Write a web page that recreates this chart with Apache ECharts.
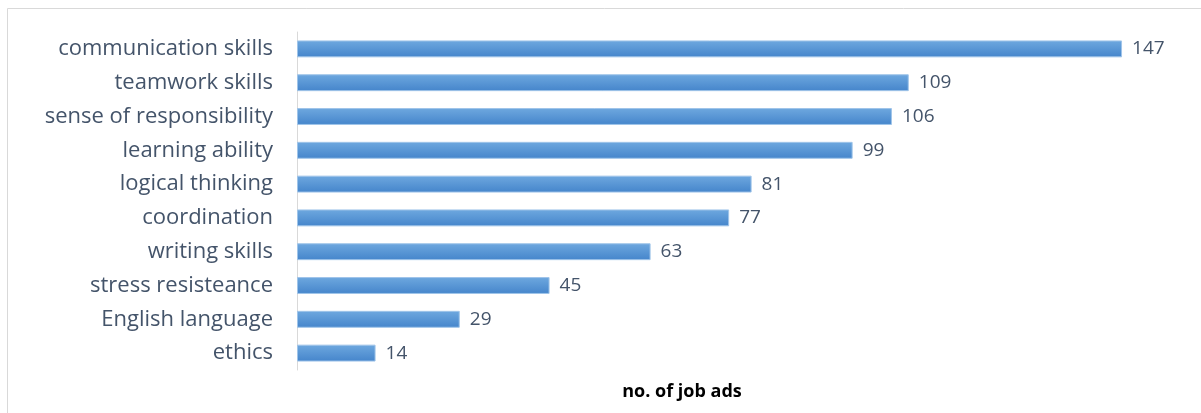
<!DOCTYPE html>
<html>
<head>
<meta charset="utf-8">
<script src="https://cdn.jsdelivr.net/npm/echarts@6/dist/echarts.min.js"></script>
<style>
  html, body { margin: 0; padding: 0; background: #fff; }
  #chart { width: 1201px; height: 413px; }
</style>
</head>
<body>
<div id="chart"></div>
<script>
// bottom-to-top order (category axis on y starts at bottom)
const skills = [
  "ethics", "English language", "stress resisteance", "writing skills",
  "coordination", "logical thinking", "learning ability",
  "sense of responsibility", "teamwork skills", "communication skills"
];
const jobAds = [14, 29, 45, 63, 77, 81, 99, 106, 109, 147];
const axisTitle = "no. of job ads";

const textColor = "#44546a";
const font = "'Open Sans', sans-serif";

const chart = echarts.init(document.getElementById("chart"));
chart.setOption({
  animation: false,
  backgroundColor: "#fff",
  title: {
    text: axisTitle,
    left: 677,
    top: 378,
    textAlign: "center",
    textStyle: { color: "#000", fontFamily: font, fontSize: 18, fontWeight: "bold" },
  },
  graphic: [{
    type: "rect",
    shape: { x: 7.5, y: 8.5, width: 1220, height: 420 },
    style: { fill: "none", stroke: "#d9d9d9", lineWidth: 1 },
    silent: true,
  }],
  grid: { left: 297, right: 6, top: 32, bottom: 43, containLabel: false },
  xAxis: {
    type: "value",
    min: 0,
    max: 160,
    show: false,
  },
  yAxis: {
    type: "category",
    data: skills,
    axisLine: { show: true, lineStyle: { color: "#d9d9d9" } },
    axisTick: { show: false },
    axisLabel: { color: textColor, fontFamily: font, fontSize: 22, margin: 24 },
  },
  series: [{
    type: "bar",
    data: jobAds,
    barCategoryGap: "50%",
    itemStyle: {
      color: new echarts.graphic.LinearGradient(0, 0, 0, 1, [
        { offset: 0, color: "#6ea8df" },
        { offset: 1, color: "#4585cb" },
      ]),
      borderColor: "#9fc4e9",
      borderWidth: 1,
    },
    label: {
      show: true,
      position: "right",
      distance: 10,
      color: textColor,
      fontFamily: font,
      fontSize: 19,
    },
  }],
});
</script>
</body>
</html>
